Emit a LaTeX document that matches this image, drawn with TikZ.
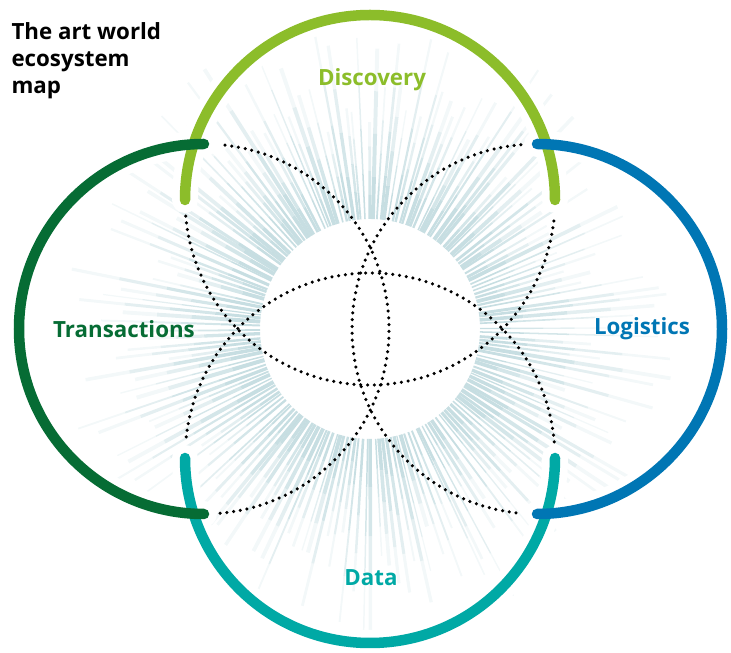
\documentclass[tikz,border=0pt]{standalone}
\usepackage{fontspec}
\setmainfont{Open Sans}
\usetikzlibrary{calc}

\definecolor{discgreen}{RGB}{140,189,42}
\definecolor{transgreen}{RGB}{6,108,52}
\definecolor{logblue}{RGB}{0,118,180}
\definecolor{datateal}{RGB}{0,169,165}
\definecolor{raycol}{RGB}{196,220,224}

\begin{document}
\begin{tikzpicture}[
    x=1pt, y=1pt,
    ring/.style={line width=10.5pt, line cap=round},
    halo/.style={line width=26pt, line cap=round, white},
    dots/.style={line width=3.5pt, line cap=round, dash pattern=on 0pt off 6.8pt, black},
    ray/.style={raycol, line cap=butt},
    area label/.style={font=\fontsize{22.3}{26}\bfseries\selectfont}
]
\useasboundingbox (0,0) rectangle (731,653);

\coordinate (hub) at (370,324);
\coordinate (disc) at (370,453);
\coordinate (trans) at (204,324);
\coordinate (logi) at (537,324);
\coordinate (dat) at (370,195);

\pgfmathsetseed{42}
\begin{scope}[shift={(hub)}]
\foreach \a in {0,2,...,358} {
  \pgfmathsetmacro{\ang}{\a+1.0*rnd}
  \pgfmathsetmacro{\rlen}{200+110*rnd}
  \pgfmathsetmacro{\rw}{1.2+2.8*rnd}
  \pgfmathsetmacro{\rstep}{(\rlen-110)/4}
  \foreach \k/\op in {0/0.95,1/0.72,2/0.45,3/0.2} {
    \draw[ray, line width=\rw pt, opacity=\op] (\ang:{110+\k*\rstep}) -- (\ang:{110+(\k+1)*\rstep});
  }
}
\end{scope}

\draw[halo] (disc) ++(0:185) arc[start angle=0, end angle=180, radius=185];
\draw[halo] (dat) ++(180:185) arc[start angle=180, end angle=360, radius=185];
\draw[halo] (trans) ++(90:185) arc[start angle=90, end angle=270, radius=185];
\draw[halo] (logi) ++(-90:185) arc[start angle=-90, end angle=90, radius=185];

\draw[dots] (disc) ++(185:185) arc[start angle=185, end angle=355, radius=185];
\draw[dots] (dat) ++(5:185) arc[start angle=5, end angle=175, radius=185];
\draw[dots] (trans) ++(-85:185) arc[start angle=-85, end angle=85, radius=185];
\draw[dots] (logi) ++(95:185) arc[start angle=95, end angle=265, radius=185];

\draw[ring, discgreen] (disc) ++(0:185) arc[start angle=0, end angle=180, radius=185];
\draw[ring, datateal] (dat) ++(180:185) arc[start angle=180, end angle=360, radius=185];
\draw[ring, transgreen] (trans) ++(90:185) arc[start angle=90, end angle=270, radius=185];
\draw[ring, logblue] (logi) ++(-90:185) arc[start angle=-90, end angle=90, radius=185];

\node[area label, discgreen] (discovery) at (372,573) {Discovery};
\node[area label, transgreen] (transactions) at (124,324) {Transactions};
\node[area label, logblue] (logistics) at (642,324) {Logistics};
\node[area label, datateal] (data) at (371,75) {Data};
\node[anchor=north west, align=left, font=\fontsize{22.3}{27}\bfseries\selectfont] (title) at (8,634) {The art world\\ecosystem\\map};

\end{tikzpicture}
\end{document}
